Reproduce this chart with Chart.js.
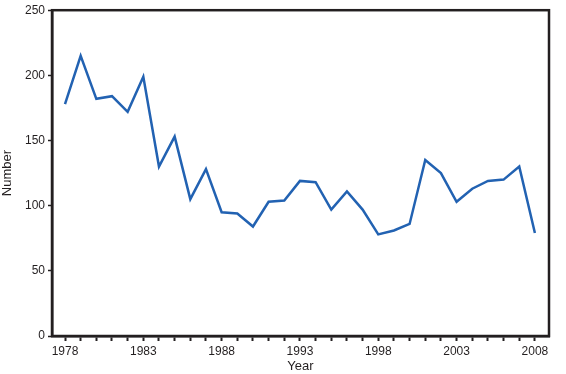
<!DOCTYPE html>
<html>
<head>
<meta charset="utf-8">
<script src="https://cdn.jsdelivr.net/npm/chart.js@4"></script>
<style>
  html, body { margin: 0; padding: 0; background: #fff; }
  #wrap { width: 566px; height: 374px; }
</style>
</head>
<body>
<div id="wrap"><canvas id="chart" width="566" height="374"></canvas></div>
<script>
  const years = [1978, 1979, 1980, 1981, 1982, 1983, 1984, 1985, 1986, 1987,
                 1988, 1989, 1990, 1991, 1992, 1993, 1994, 1995, 1996, 1997,
                 1998, 1999, 2000, 2001, 2002, 2003, 2004, 2005, 2006, 2007, 2008];
  const counts = [178, 215, 182, 184, 172, 199, 130, 153, 105, 128,
                  95, 94, 84, 103, 104, 119, 118, 97, 111, 97,
                  78, 81, 86, 135, 125, 103, 113, 119, 120, 130, 79];
  const yTicks = [0, 50, 100, 150, 200, 250];
  const labelYears = [1978, 1983, 1988, 1993, 1998, 2003, 2008];

  const ink = '#231f20';
  const font = { family: "'Liberation Sans', Arial, sans-serif", size: 12 };

  // frame around the plot area (top and right sides too)
  const frame = {
    id: 'frame',
    afterDraw(chart) {
      const a = chart.chartArea, c = chart.ctx;
      c.save();
      c.strokeStyle = ink;
      c.lineWidth = 2.5;
      c.strokeRect(a.left, a.top, a.right - a.left, a.bottom - a.top);
      c.restore();
    }
  };

  new Chart(document.getElementById('chart'), {
    type: 'line',
    data: {
      datasets: [{
        data: years.map((y, i) => ({ x: y, y: counts[i] })),
        borderColor: '#2262b2',
        borderWidth: 2.5,
        pointRadius: 0,
        tension: 0
      }]
    },
    options: {
      responsive: false,
      animation: false,
      layout: { padding: { top: 8, right: 17, left: 0, bottom: 0 } },
      plugins: { legend: { display: false }, tooltip: { enabled: false } },
      scales: {
        x: {
          type: 'linear',
          min: 1977.17,
          max: 2008.9,
          afterBuildTicks(axis) { axis.ticks = years.map(v => ({ value: v })); },
          afterFit(axis) { axis.height = 38; },
          grid: { drawOnChartArea: false, tickLength: 5, tickWidth: 2, tickColor: ink },
          border: { color: ink, width: 2.5 },
          ticks: {
            autoSkip: false,
            maxRotation: 0,
            padding: 3,
            color: ink,
            font: font,
            callback: v => labelYears.includes(v) ? String(v) : ''
          },
          title: { display: true, text: 'Year', color: ink, font: { family: font.family, size: 13 }, padding: { top: 0, bottom: 0 } }
        },
        y: {
          min: 0,
          max: 250,
          afterBuildTicks(axis) { axis.ticks = yTicks.map(v => ({ value: v })); },
          afterFit(axis) { axis.width = 52; },
          grid: { drawOnChartArea: false, tickLength: 4, tickWidth: 1.5, tickColor: ink },
          border: { color: ink, width: 2.5 },
          ticks: { color: ink, font: font, padding: 3 },
          title: { display: true, text: 'Number', color: ink, font: { family: font.family, size: 13 }, padding: { top: 0, bottom: 2 } }
        }
      }
    },
    plugins: [frame]
  });
</script>
</body>
</html>
